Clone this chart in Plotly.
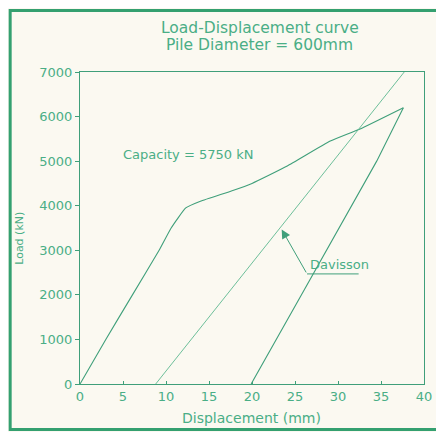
import plotly.graph_objects as go

# Data
load_disp = [0, 3.0, 6.1, 9.2, 10.6, 12.3, 14.0, 17.6, 20.0, 24.1, 29.1, 32.5, 37.6]
load_kn = [0, 1000, 2000, 3000, 3500, 3950, 4100, 4330, 4500, 4890, 5450, 5717, 6200]

davisson_disp = [8.8, 37.7]
davisson_kn = [0, 7000]

unload_disp = [37.6, 34.5, 26.0, 19.9]
unload_kn = [6200, 5000, 2085, 0]

underline_disp = [26.4, 32.4]
underline_kn = [2470, 2470]

x_ticks = [0, 5, 10, 15, 20, 25, 30, 35, 40]
y_ticks = [0, 1000, 2000, 3000, 4000, 5000, 6000, 7000]

LINE = "#3f9f7a"
LIGHT = "#5cb890"
TEXT = "#4aae86"
BG = "#fbf9f1"
FONT = "DejaVu Sans"

fig = go.Figure()
fig.add_trace(go.Scatter(x=load_disp, y=load_kn, mode="lines",
                         line=dict(color=LINE, width=1.1, shape="spline", smoothing=0.4),
                         showlegend=False))
fig.add_trace(go.Scatter(x=davisson_disp, y=davisson_kn, mode="lines",
                         line=dict(color=LIGHT, width=0.9), showlegend=False))
fig.add_trace(go.Scatter(x=unload_disp, y=unload_kn, mode="lines",
                         line=dict(color=LINE, width=1.1), showlegend=False))
fig.add_trace(go.Scatter(x=underline_disp, y=underline_kn, mode="lines",
                         line=dict(color=LINE, width=1), showlegend=False))

fig.update_layout(
    width=436, height=424,
    margin=dict(l=72, r=16, t=64, b=48),
    paper_bgcolor=BG, plot_bgcolor=BG,
    font=dict(family=FONT, color=TEXT, size=13),
    xaxis=dict(range=[0, 40], tickvals=x_ticks, ticks="inside", ticklen=3,
               tickcolor=LINE, showline=True, mirror=True, linecolor=LINE,
               linewidth=1, showgrid=False, zeroline=False,
               tickfont=dict(family=FONT, size=13, color=TEXT)),
    yaxis=dict(range=[0, 7000], tickvals=y_ticks, ticks="outside", ticklen=4,
               tickcolor=LINE, showline=True, mirror=True, linecolor=LINE,
               linewidth=1, showgrid=False, zeroline=False,
               tickfont=dict(family=FONT, size=13, color=TEXT)),
)

ann = []
ann.append(dict(text="Load-Displacement curve", xref="paper", yref="paper",
                x=0.523, y=1.142, showarrow=False, xanchor="center", yanchor="middle",
                font=dict(family=FONT, size=15.5, color=TEXT)))
ann.append(dict(text="Pile Diameter = 600mm", xref="paper", yref="paper",
                x=0.523, y=1.0875, showarrow=False, xanchor="center", yanchor="middle",
                font=dict(family=FONT, size=15.5, color=TEXT)))
ann.append(dict(text="Displacement (mm)", xref="paper", yref="paper",
                x=0.4986, y=-0.109, showarrow=False, xanchor="center", yanchor="middle",
                font=dict(family=FONT, size=14, color=TEXT)))
ann.append(dict(text="Load (kN)", xref="paper", yref="paper", textangle=-90,
                x=-0.175, y=0.468, showarrow=False, xanchor="center", yanchor="middle",
                font=dict(family=FONT, size=11, color=TEXT)))
ann.append(dict(text="Capacity = 5750 kN", xref="x", yref="y",
                x=12.6, y=5157, showarrow=False, xanchor="center", yanchor="middle",
                font=dict(family=FONT, size=13, color=TEXT)))
ann.append(dict(text="Davisson", xref="x", yref="y",
                x=30.2, y=2690, showarrow=False, xanchor="center", yanchor="middle",
                font=dict(family=FONT, size=13, color=TEXT)))
ann.append(dict(text="", xref="x", yref="y", axref="x", ayref="y",
                x=23.45, y=3469, ax=26.4, ay=2470, showarrow=True,
                arrowhead=2, arrowsize=1.8, arrowwidth=1, arrowcolor=LINE))
fig.update_layout(annotations=ann)

# outer frame (paper coords relative to plot area); right side runs off the page
fig.add_shape(type="rect", xref="paper", yref="paper",
              x0=-0.203, x1=1.12, y0=-0.146, y1=1.197,
              line=dict(color="#34a070", width=3), layer="above")

fig.write_html("out.html")
